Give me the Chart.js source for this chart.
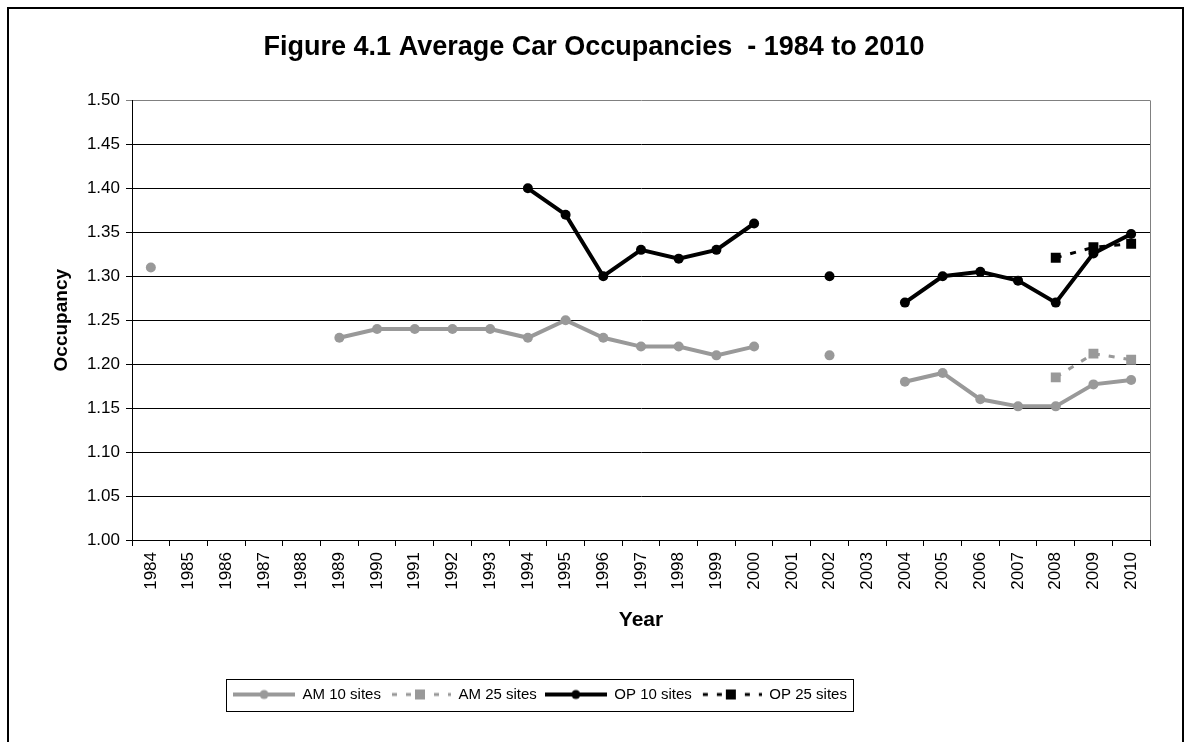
<!DOCTYPE html>
<html><head><meta charset="utf-8">
<script src="https://cdn.jsdelivr.net/npm/chart.js@4.4.0/dist/chart.umd.min.js"></script>
<style>
html,body{margin:0;padding:0;background:#fff;overflow:hidden;width:1192px;height:742px;}
#frame{position:absolute;left:7px;top:7px;width:1177px;height:900px;border:2px solid #000;box-sizing:border-box;}
#wrap{position:absolute;left:0;top:0;width:1192px;height:742px;}
</style></head><body>
<div id="frame"></div>
<div id="wrap"><canvas id="c" width="1192" height="742"></canvas></div>
<script>
const years = ['1984','1985','1986','1987','1988','1989','1990','1991','1992','1993','1994','1995','1996','1997','1998','1999','2000','2001','2002','2003','2004','2005','2006','2007','2008','2009','2010'];
const am10 = [1.31,null,null,null,null,1.23,1.24,1.24,1.24,1.24,1.23,1.25,1.23,1.22,1.22,1.21,1.22,null,1.21,null,1.18,1.19,1.16,1.152,1.152,1.177,1.182];
const am25 = [null,null,null,null,null,null,null,null,null,null,null,null,null,null,null,null,null,null,null,null,null,null,null,null,1.185,1.212,1.205];
const op10 = [null,null,null,null,null,null,null,null,null,null,1.40,1.37,1.30,1.33,1.32,1.33,1.36,null,1.30,null,1.27,1.30,1.305,1.295,1.27,1.326,1.348];
const op25 = [null,null,null,null,null,null,null,null,null,null,null,null,null,null,null,null,null,null,null,null,null,null,null,null,1.321,1.333,1.337];
const yTicks = [1.00,1.05,1.10,1.15,1.20,1.25,1.30,1.35,1.40,1.45,1.50];
const seriesNames = ['AM 10 sites','AM 25 sites','OP 10 sites','OP 25 sites'];

const GRAY = '#999999', BLACK = '#000000';
const FONT = "'Liberation Sans', Arial, sans-serif";

function legendSymbol(color, dashed, square) {
  const c = document.createElement('canvas');
  c.width = 62; c.height = 14;
  const g = c.getContext('2d');
  g.strokeStyle = color; g.fillStyle = color;
  g.lineWidth = dashed ? 3 : 4;
  if (dashed) g.setLineDash([5, 9]);
  g.beginPath(); g.moveTo(dashed ? 3 : 0, 7); g.lineTo(62, 7); g.stroke();
  g.setLineDash([]);
  if (square) { g.fillRect(31 - 5, 7 - 5, 10, 10); }
  else { g.beginPath(); g.arc(31, 7, 4.5, 0, Math.PI * 2); g.fill(); }
  return c;
}

const datasets = [
  {label: seriesNames[0], data: am10, borderColor: GRAY, borderWidth: 4, pointStyle: 'circle', pointRadius: 5, order: 4, sym: legendSymbol(GRAY, false, false)},
  {label: seriesNames[1], data: am25, borderColor: GRAY, borderWidth: 3, borderDash: [6, 9], pointStyle: 'rect', pointRadius: 7, order: 3, sym: legendSymbol(GRAY, true, true)},
  {label: seriesNames[2], data: op10, borderColor: BLACK, borderWidth: 4, pointStyle: 'circle', pointRadius: 5, order: 2, sym: legendSymbol(BLACK, false, false)},
  {label: seriesNames[3], data: op25, borderColor: BLACK, borderWidth: 3, borderDash: [6, 9], pointStyle: 'rect', pointRadius: 7, order: 1, sym: legendSymbol(BLACK, true, true)}
].map(d => Object.assign({fill: false, tension: 0, spanGaps: false, pointBorderWidth: 0, backgroundColor: d.borderColor, pointBorderColor: d.borderColor, pointBackgroundColor: d.borderColor}, d));

const framePlugin = {
  id: 'frames',
  afterLayout(chart) {
    // shift the legend row left so it sits where the original legend box sits
    const lg = chart.legend;
    if (lg) { lg.left -= 54; lg.right -= 54; }
  },
  beforeDatasetsDraw(chart) {
    const a = chart.chartArea, ctx = chart.ctx;
    ctx.save();
    ctx.strokeStyle = '#808080'; ctx.lineWidth = 1;
    ctx.beginPath(); ctx.moveTo(Math.round(a.right) + 0.5, a.top); ctx.lineTo(Math.round(a.right) + 0.5, a.bottom); ctx.stroke();
    ctx.restore();
  },
  afterDraw(chart) {
    const lg = chart.legend, hb = lg.legendHitBoxes, ctx = chart.ctx;
    if (!hb || !hb.length) return;
    const last = hb[hb.length - 1];
    const x0 = Math.round(hb[0].left - 7) + 0.5, x1 = Math.round(last.left + last.width + 6) + 0.5;
    const y0 = Math.round(lg.top) + 0.5, y1 = Math.round(lg.bottom - 1) + 0.5;
    ctx.save(); ctx.strokeStyle = '#000'; ctx.lineWidth = 1;
    ctx.strokeRect(x0, y0, x1 - x0, y1 - y0);
    ctx.restore();
  }
};

new Chart(document.getElementById('c'), {
  type: 'line',
  data: {labels: years, datasets},
  plugins: [framePlugin],
  options: {
    responsive: false, animation: false, events: [],
    layout: {padding: {left: 38, right: 42, top: 8, bottom: 30}},
    plugins: {
      tooltip: {enabled: false},
      title: {display: true, text: 'Figure 4.1 Average Car Occupancies  - 1984 to 2010', color: '#000',
        font: {family: FONT, size: 27, weight: 'bold'}, padding: {top: 23, bottom: 37}},
      legend: {position: 'bottom',
        labels: {usePointStyle: true, pointStyleWidth: 62, padding: 8, color: '#000', font: {family: FONT, size: 15},
          generateLabels: (chart) => chart.data.datasets.map((d, i) => ({text: d.label, pointStyle: d.sym, fillStyle: d.borderColor, strokeStyle: d.borderColor, lineWidth: 0, hidden: false, datasetIndex: i, fontColor: '#000'}))}}
    },
    scales: {
      x: {type: 'category', offset: true,
        afterFit: (s) => { s.height = 139; },
        grid: {offset: true, drawOnChartArea: false, drawTicks: true, tickLength: 6, color: '#000'},
        border: {color: '#000', width: 1},
        ticks: {autoSkip: false, minRotation: 90, maxRotation: 90, padding: 6, color: '#000', font: {family: FONT, size: 17}},
        title: {display: true, text: 'Year', color: '#000', font: {family: FONT, size: 21, weight: 'bold'}, padding: {top: 0, bottom: 46}}
      },
      y: {min: 1.0, max: 1.5,
        afterFit: (s) => { s.width = 94; },
        afterBuildTicks: (s) => { s.ticks = yTicks.map(v => ({value: v})); },
        grid: {color: (c) => (c.tick && Math.abs(c.tick.value - 1.5) < 1e-9) ? '#808080' : '#000', lineWidth: 1, tickLength: 6, drawTicks: true},
        border: {color: '#000', width: 1},
        ticks: {padding: 6, color: '#000', font: {family: FONT, size: 17}, callback: (v) => Number(v).toFixed(2)},
        title: {display: true, text: 'Occupancy', color: '#000', font: {family: FONT, size: 19, weight: 'bold'}, padding: {top: 12, bottom: 0}}
      }
    }
  }
});
</script>
</body></html>
